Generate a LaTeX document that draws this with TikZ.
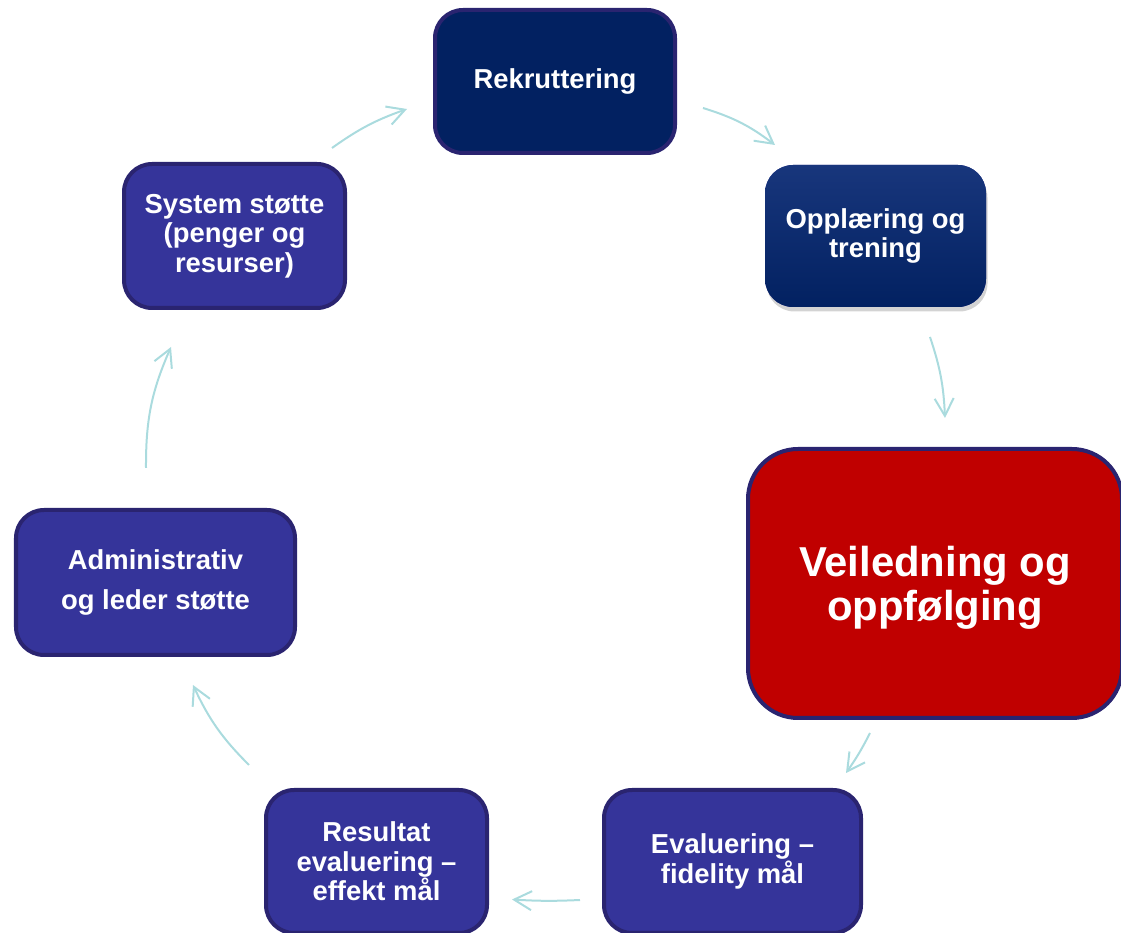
\documentclass[tikz,border=0pt]{standalone}
\usepackage{fontspec}
\setmainfont{Liberation Sans}
\usetikzlibrary{arrows.meta,shadows}

\definecolor{boxblue}{RGB}{53,52,154}
\definecolor{boxline}{RGB}{42,36,112}
\definecolor{navy}{RGB}{2,33,97}
\definecolor{navytop}{RGB}{24,54,124}
\definecolor{redbox}{RGB}{192,0,0}
\definecolor{flowcol}{RGB}{170,219,222}

\tikzset{
  stage/.style={draw=boxline, line width=0.08cm, fill=boxblue,
    rounded corners=0.56cm, text=white, align=center, inner sep=0pt,
    font=\bfseries\fontsize{15.6}{16.8}\selectfont},
  flow/.style={draw=flowcol, line width=0.04cm,
    -{Straight Barb[length=3.5mm,width=3.8mm]}},
}

\begin{document}
\begin{tikzpicture}
  \useasboundingbox (0,0) rectangle (22.42,18.64);

  % boxes of the cycle
  \node[stage, fill=navy, minimum width=4.8cm, minimum height=2.86cm]
    (rek) at (11.1,17.01) {Rekruttering};
  \node[stage, draw=none, top color=navytop, bottom color=navy,
    drop shadow={shadow xshift=0.03cm, shadow yshift=-0.09cm, opacity=0.35},
    minimum width=4.42cm, minimum height=2.84cm]
    (opp) at (17.51,13.92) {Opplæring og\\trening};
  \node[stage, fill=redbox, rounded corners=1cm, text depth=0pt,
    minimum width=7.48cm, minimum height=5.38cm,
    font=\bfseries\fontsize{23.8}{25}\selectfont]
    (vei) at (18.7,6.97) {Veiledning og\\oppfølging};
  \node[stage, minimum width=5.14cm, minimum height=2.86cm]
    (eva) at (14.65,1.41) {Evaluering –\\fidelity mål};
  \node[stage, minimum width=4.42cm, minimum height=2.86cm]
    (res) at (7.53,1.41) {Resultat\\evaluering –\\effekt mål};
  \node[stage, minimum width=5.58cm, minimum height=2.9cm,
    font=\bfseries\fontsize{15.6}{22.8}\selectfont]
    (adm) at (3.11,6.99) {Administrativ\\og leder støtte};
  \node[stage, minimum width=4.42cm, minimum height=2.88cm]
    (sys) at (4.69,13.92) {System støtte\\(penger og\\resurser)};

  % arrows between the boxes
  \draw[flow] ([shift={(0.52,-0.53)}]rek.east)
    to[bend left=10] ([shift={(0.24,0.36)}]opp.north west);
  \draw[flow] ([shift={(1.09,-0.56)}]opp.south)
    to[bend left=8] ([shift={(0.2,0.58)}]vei.north);
  \draw[flow] ([shift={(-1.3,-0.26)}]vei.south)
    to[bend left=4] ([shift={(-0.34,0.3)}]eva.north east);
  \draw[flow] ([shift={(-0.44,-0.77)}]eva.west)
    to[bend left=3] ([shift={(0.46,-0.76)}]res.east);
  \draw[flow] ([shift={(-0.3,0.46)}]res.north west)
    to[bend left=10] ([shift={(0.75,-0.56)}]adm.south);
  \draw[flow] ([shift={(-0.19,0.8)}]adm.north)
    to[bend left=12] ([shift={(-1.27,-0.74)}]sys.south);
  \draw[flow] ([shift={(-0.3,0.28)}]sys.north east)
    to[bend left=8] ([shift={(-0.52,-0.55)}]rek.west);
\end{tikzpicture}
\end{document}
